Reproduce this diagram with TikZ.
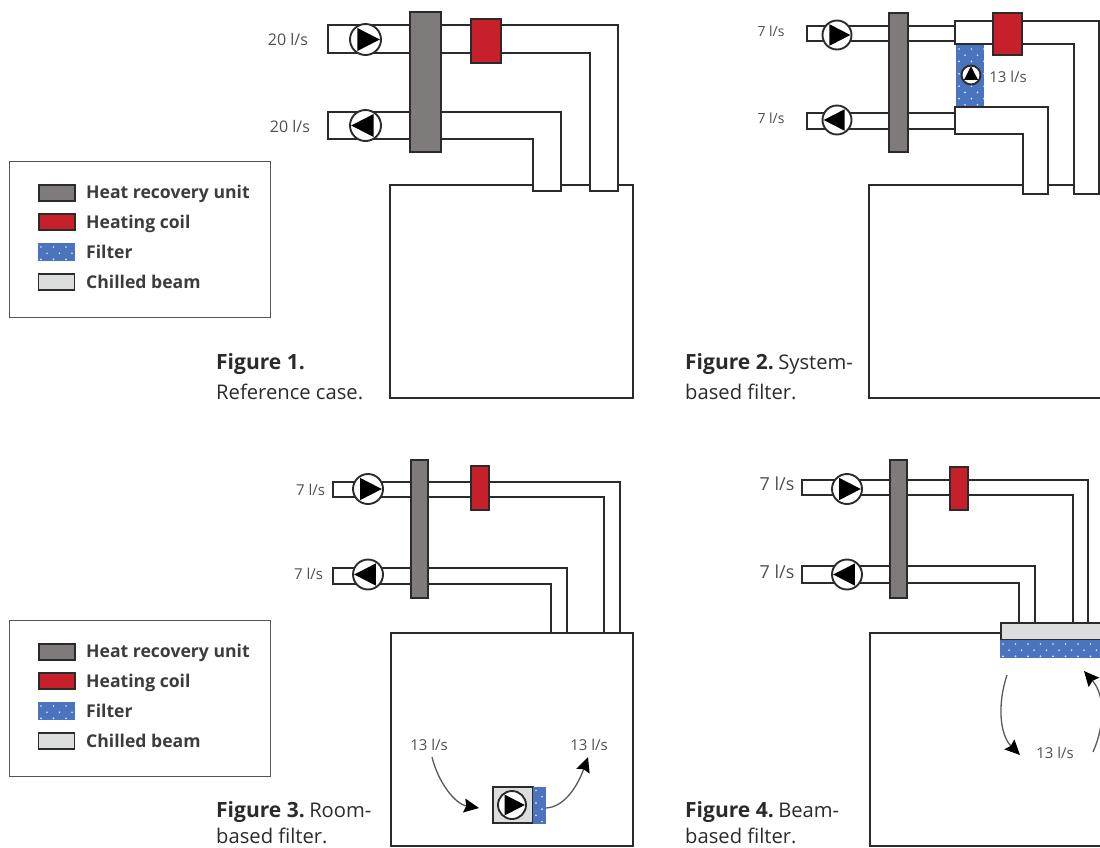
\documentclass[tikz,border=0pt]{standalone}
\usepackage{fontspec}
\setmainfont{Open Sans}
\usetikzlibrary{arrows.meta}
\definecolor{hru}{HTML}{807B7B}
\definecolor{coil}{HTML}{C8202A}
\definecolor{filt}{HTML}{4A74BE}
\definecolor{beam}{HTML}{DCDDDD}
\definecolor{ink}{HTML}{2B2B2B}
\definecolor{legink}{HTML}{3C3C3C}
\definecolor{flowtxt}{HTML}{4F4F4F}
\tikzset{
  duct/.style={draw=ink,line width=2pt,fill=white,line join=miter},
  room/.style={draw=ink,line width=2pt,fill=white},
  hrubox/.style={draw=ink,line width=2pt,fill=hru},
  coilbox/.style={draw=ink,line width=2pt,fill=coil},
  filtbox/.style={fill=filt},
  beambox/.style={draw=ink,line width=1.8pt,fill=beam},
  flow/.style={text=flowtxt,font=\fontsize{15}{17}\selectfont,inner sep=0pt},
  flowone/.style={text=flowtxt,font=\fontsize{16}{18}\selectfont,inner sep=0pt},
  flowbig/.style={text=flowtxt,font=\fontsize{18}{20}\selectfont,inner sep=0pt},
  capt/.style={anchor=base west,inner sep=0pt,text=ink,font=\fontsize{20.2}{23}\selectfont},
  legt/.style={anchor=base west,inner sep=0pt,text=legink,font=\bfseries\fontsize{17.6}{22}\selectfont},
  legframe/.style={draw=ink!80,line width=0.9pt,fill=white},
  aflow/.style={draw=black!65,line width=1.3pt,-{Stealth[length=15pt,width=14pt,inset=2pt,color=black]}},
  pumpc/.style={draw=ink,line width=1.9pt,fill=white,circle,inner sep=0pt}
}
\newcommand{\figlab}[1]{\textbf{\fontsize{21}{23}\selectfont #1}\hspace{4.5pt}}
% name, style, x1, y1, x2, y2
\newcommand{\bx}[6]{\node[#2,rectangle,inner sep=0pt,outer sep=0pt,minimum width={((#5)-(#3))*1pt},minimum height={((#6)-(#4))*1pt}] (#1) at ({((#3)+(#5))/2},{((#4)+(#6))/2}) {};}
% name, x, y, r, angle
\newcommand{\pump}[5]{\node[pumpc,minimum size={2*#4*1pt}] (#1) at (#2,#3) {};
  \fill[black,rotate around={#5:(#2,#3)}] ({#2-0.52*#4},{#3-0.74*#4}) -- ({#2+0.92*#4},#3) -- ({#2-0.52*#4},{#3+0.74*#4}) -- cycle;}
% dots
\newcommand{\fdots}[4]{\begin{scope}
  \clip (#1,#2) rectangle (#3,#4);
  \foreach \i in {0,...,26}{\foreach \j in {0,...,18}{
    \pgfmathsetmacro{\xx}{(#1)+3+\i*12.5+mod(\j,2)*6}
    \pgfmathsetmacro{\yy}{(#2)+4+\j*6.2}
    \fill[white!85!filt] (\xx,\yy) circle (0.95);
  }}
\end{scope}}
\newcommand{\legend}[2]{% name prefix, y offset
  \bx{#1f}{legframe}{9}{#2+161}{270}{#2+317}
  \bx{#1a}{hrubox}{38.5}{#2+185}{74.5}{#2+201}
  \bx{#1b}{coilbox}{38.5}{#2+214}{74.5}{#2+230}
  \bx{#1c}{filtbox}{38}{#2+243}{75}{#2+261}
  \fdots{38}{#2+243}{75}{#2+261}
  \bx{#1d}{beambox}{38.5}{#2+274}{74.5}{#2+290}
  \node[legt] (#1ta) at (86,#2+198) {Heat recovery unit};
  \node[legt] (#1tb) at (86,#2+228) {Heating coil};
  \node[legt] (#1tc) at (86,#2+258) {Filter};
  \node[legt] (#1td) at (86,#2+288) {Chilled beam};
}
\begin{document}
\begin{tikzpicture}[x=1pt,y=-1pt]
\useasboundingbox (0,0) rectangle (1100,847);
\fill[white] (0,0) rectangle (1100,847);
\begin{scope}
\clip (0,0) rectangle (1100,847);
%---- legends
\legend{la}{0}
\legend{lb}{459}
%---- Figure 1
\draw[room] (390,185) rectangle (633,398);
\draw[duct] (328,25) -- (618,25) -- (618,191) -- (590,191) -- (590,53) -- (328,53) -- cycle;
\draw[duct] (328,112) -- (561,112) -- (561,191) -- (533,191) -- (533,139) -- (328,139) -- cycle;
\bx{hA}{hrubox}{410}{12}{441}{152}
\bx{cA}{coilbox}{471}{19}{501}{63}
\pump{pA}{365.5}{39.5}{15.5}{0}
\pump{qA}{365.5}{125.5}{15.5}{180}
\node[flowone] (tA1) at (288,39) {20 l/s};
\node[flowone] (tA2) at (290,126) {20 l/s};
\node[capt] (capA1) at (216,369) {\figlab{Figure 1.}};
\node[capt] (capA2) at (216,399) {Reference case.};
%---- Figure 2
\draw[room] (869,185) rectangle (1112,398);
\draw[duct] (807,26) -- (955,26) -- (955,41) -- (807,41) -- cycle;
\draw[duct] (807,113) -- (955,113) -- (955,129) -- (807,129) -- cycle;
\draw[duct] (955,21) -- (1099,21) -- (1099,194) -- (1074,194) -- (1074,44) -- (955,44) -- cycle;
\draw[duct] (955,107) -- (1048,107) -- (1048,194) -- (1023,194) -- (1023,134) -- (955,134) -- cycle;
\bx{fB}{filtbox}{956}{45}{984}{106}
\fdots{956}{45}{984}{106}
\bx{hB}{hrubox}{889}{13}{908}{152}
\bx{cB}{coilbox}{992.5}{12.5}{1022}{55}
\pump{pB}{837}{35}{14.5}{0}
\pump{qB}{837}{120}{14.5}{180}
\pump{rB}{971}{75}{9.5}{90}
\node[flow,font=\fontsize{14}{16}\selectfont] (tB1) at (771,31) {7 l/s};
\node[flow,font=\fontsize{14}{16}\selectfont] (tB2) at (771,118) {7 l/s};
\node[flow] (tB3) at (1008,77) {13 l/s};
\node[capt] (capB1) at (685,369) {\figlab{Figure 2.}System-};
\node[capt] (capB2) at (685,399) {based filter.};
%---- Figure 3
\draw[room] (391,633) rectangle (633,846);
\draw[duct] (333,482) -- (620,482) -- (620,633) -- (604,633) -- (604,497) -- (333,497) -- cycle;
\draw[duct] (333,568) -- (567,568) -- (567,633) -- (551,633) -- (551,584) -- (333,584) -- cycle;
\bx{hC}{hrubox}{411}{459.5}{428}{598}
\bx{cC}{coilbox}{471}{466}{489}{510}
\pump{pC}{368}{489}{15}{0}
\pump{qC}{368}{574.5}{15}{180}
\node[flow] (tC1) at (310.5,490) {7 l/s};
\node[flow] (tC2) at (308.5,574) {7 l/s};
\bx{uC}{beambox}{493}{787}{533}{823}
\bx{vC}{filtbox}{533}{786.5}{546}{823.5}
\fdots{533}{786.5}{546}{823.5}
\pump{rC}{512}{805}{14}{0}
\node[flow] (tC3) at (429,745) {13 l/s};
\node[flow] (tC4) at (589,745) {13 l/s};
\coordinate (aC) at (432,757);
\coordinate (bC) at (479,808);
\coordinate (cC1) at (546,808);
\coordinate (dC) at (588,757);
\draw[aflow] (aC) .. controls (438,782) and (455,804) .. (bC);
\draw[aflow] (cC1) .. controls (565,807) and (578,785) .. (dC);
\node[capt] (capC1) at (216,817) {\figlab{Figure 3.}Room-};
\node[capt] (capC2) at (216,843) {based filter.};
%---- Figure 4
\draw[room] (870,633) rectangle (1112,846);
\draw[duct] (802,480) -- (1088,480) -- (1088,623) -- (1073,623) -- (1073,495) -- (802,495) -- cycle;
\draw[duct] (802,566) -- (1035,566) -- (1035,623) -- (1019,623) -- (1019,583) -- (802,583) -- cycle;
\bx{bD}{beambox}{1001}{623}{1112}{640}
\bx{fD}{filtbox}{1000}{640}{1112}{658}
\fdots{1000}{640}{1112}{658}
\bx{hD}{hrubox}{889.5}{459.5}{907}{597.5}
\bx{cD}{coilbox}{950}{466.5}{967.5}{509.5}
\pump{pD}{847}{489}{15}{0}
\pump{qD}{847}{574.5}{15}{180}
\node[flowbig] (tD1) at (777,484) {7 l/s};
\node[flowbig] (tD2) at (777,572) {7 l/s};
\node[flow] (tD3) at (1055,753) {13 l/s};
\coordinate (aD) at (1007,675);
\coordinate (bD1) at (1020,755);
\coordinate (cD1) at (1093,752);
\coordinate (dD) at (1084,671);
\draw[aflow] (aD) .. controls (997,705) and (1000,735) .. (bD1);
\draw[aflow] (cD1) .. controls (1105,725) and (1105,695) .. (dD);
\node[capt] (capD1) at (685,817) {\figlab{Figure 4.}Beam-};
\node[capt] (capD2) at (685,843) {based filter.};
\end{scope}
\end{tikzpicture}
\end{document}
